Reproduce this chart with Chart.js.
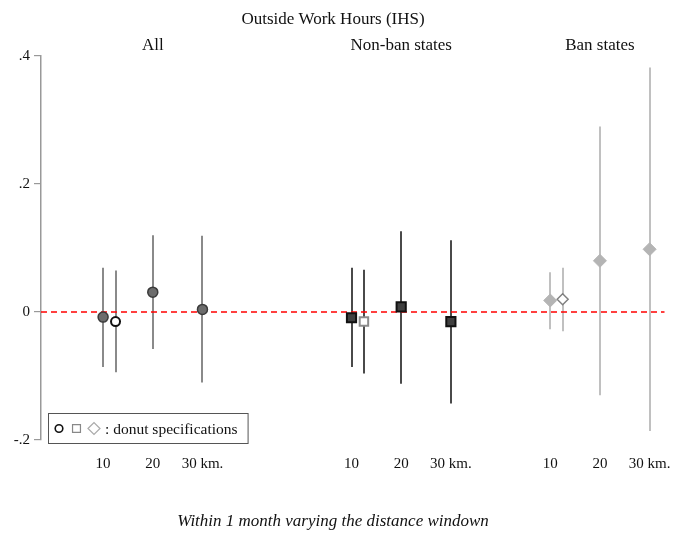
<!DOCTYPE html>
<html>
<head>
<meta charset="utf-8">
<title>Outside Work Hours (IHS)</title>
<script src="https://cdn.jsdelivr.net/npm/chart.js@4.4.1/dist/chart.umd.min.js"></script>
<style>
  body { margin: 0; background: #fff; }
  canvas { display: block; }
</style>
</head>
<body>
<canvas id="chart" width="673" height="533"></canvas>
<script>
// x positions: 1-3 All, 6-8 Non-ban, 10-12 Ban; donut estimate sits just right of the 10 km one
var tickPos = [1, 2, 3, 6, 7, 8, 10, 11, 12];
var tickLabels = ['10', '20', '30 km.', '10', '20', '30 km.', '10', '20', '30 km.'];
var groupPos = [2, 7, 11];
var groupNames = ['All', 'Non-ban states', 'Ban states'];
var yTickLabels = ['-.2', '0', '.2', '.4'];

var allPos = [1, 2, 3];
var allEst = [-0.008, 0.031, 0.004];
var allLow = [-0.086, -0.058, -0.110];
var allHigh = [0.069, 0.120, 0.119];

var nonbanPos = [6, 7, 8];
var nonbanEst = [-0.009, 0.008, -0.015];
var nonbanLow = [-0.086, -0.112, -0.143];
var nonbanHigh = [0.069, 0.126, 0.112];

var banPos = [10, 11, 12];
var banEst = [0.018, 0.080, 0.098];
var banLow = [-0.027, -0.130, -0.186];
var banHigh = [0.062, 0.290, 0.382];

var donutPos = [1.25, 6.25, 10.25];
var donutEst = [-0.015, -0.015, 0.020];
var donutLow = [-0.094, -0.096, -0.030];
var donutHigh = [0.065, 0.066, 0.069];

var serif = "'Liberation Serif', 'Times New Roman', serif";

function points(pos, est, low, high) {
    var out = [];
    for (var i = 0; i < pos.length; i++) {
        out.push({ x: pos[i], y: est[i], low: low[i], high: high[i] });
    }
    return out;
}

function donut(i) {
    return [{ x: donutPos[i], y: donutEst[i], low: donutLow[i], high: donutHigh[i] }];
}

// confidence intervals + red zero line, under the markers
var errorBars = {
    id: 'errorBars',
    beforeDatasetsDraw: function (chart) {
        var ctx = chart.ctx;
        var xs = chart.scales.x;
        var ys = chart.scales.y;
        var area = chart.chartArea;
        ctx.save();
        chart.data.datasets.forEach(function (ds) {
            ctx.strokeStyle = ds.ciColor;
            ctx.lineWidth = 2;
            ds.data.forEach(function (p) {
                var px = Math.round(xs.getPixelForValue(p.x));
                ctx.beginPath();
                ctx.moveTo(px, ys.getPixelForValue(p.high));
                ctx.lineTo(px, ys.getPixelForValue(p.low));
                ctx.stroke();
            });
        });
        var y0 = ys.getPixelForValue(0);
        ctx.strokeStyle = '#ff0000';
        ctx.lineWidth = 1.5;
        ctx.setLineDash([6, 4]);
        ctx.beginPath();
        ctx.moveTo(area.left, y0);
        ctx.lineTo(area.right, y0);
        ctx.stroke();
        ctx.restore();
    }
};

// the little "o [] <> : donut specifications" box
var donutNote = {
    id: 'donutNote',
    afterDraw: function (chart) {
        var ctx = chart.ctx;
        var area = chart.chartArea;
        var left = area.left + 7;
        var top = area.bottom - 27;
        var cy = top + 15.5;
        var text = ': donut specifications';
        ctx.save();
        ctx.font = '15.5px ' + serif;
        var tx = left + 57;
        var w = tx + ctx.measureText(text).width + 10 - left;
        ctx.fillStyle = '#fff';
        ctx.fillRect(left, top, w, 30);
        ctx.strokeStyle = '#555';
        ctx.lineWidth = 1;
        ctx.strokeRect(left + 0.5, top + 0.5, w, 30);

        ctx.fillStyle = '#fff';
        ctx.lineWidth = 1.6;
        ctx.strokeStyle = '#111';
        Chart.helpers.drawPoint(ctx, { pointStyle: 'circle', radius: 3.8, rotation: 0, borderWidth: 1.6 }, left + 11, cy);
        ctx.lineWidth = 1.2;
        ctx.strokeStyle = '#888';
        Chart.helpers.drawPoint(ctx, { pointStyle: 'rect', radius: 5.6, rotation: 0, borderWidth: 1.2 }, left + 28.5, cy);
        ctx.strokeStyle = '#aaa';
        Chart.helpers.drawPoint(ctx, { pointStyle: 'rectRot', radius: 6, rotation: 0, borderWidth: 1.2 }, left + 46, cy);

        ctx.fillStyle = '#111';
        ctx.textBaseline = 'middle';
        ctx.fillText(text, tx, cy + 1);
        ctx.restore();
    }
};

var ctx = document.getElementById('chart').getContext('2d');
var chart = new Chart(ctx, {
    type: 'scatter',
    data: {
        datasets: [
            {
                label: 'All',
                data: points(allPos, allEst, allLow, allHigh),
                pointStyle: 'circle', pointRadius: 5,
                backgroundColor: '#6c6c6c', borderColor: '#3a3a3a', borderWidth: 1.5,
                ciColor: '#8a8a8a'
            },
            {
                label: 'All donut',
                data: donut(0),
                pointStyle: 'circle', pointRadius: 4.5,
                backgroundColor: '#fff', borderColor: '#111', borderWidth: 2,
                ciColor: '#8a8a8a'
            },
            {
                label: 'Non-ban',
                data: points(nonbanPos, nonbanEst, nonbanLow, nonbanHigh),
                pointStyle: 'rect', pointRadius: 6.5,
                backgroundColor: '#404040', borderColor: '#111', borderWidth: 2,
                ciColor: '#4a4a4a'
            },
            {
                label: 'Non-ban donut',
                data: donut(1),
                pointStyle: 'rect', pointRadius: 6,
                backgroundColor: '#fff', borderColor: '#8c8c8c', borderWidth: 2,
                ciColor: '#4a4a4a'
            },
            {
                label: 'Ban',
                data: points(banPos, banEst, banLow, banHigh),
                pointStyle: 'rectRot', pointRadius: 6.5,
                backgroundColor: '#b4b4b4', borderColor: '#b4b4b4', borderWidth: 1,
                ciColor: '#c0c0c0'
            },
            {
                label: 'Ban donut',
                data: donut(2),
                pointStyle: 'rectRot', pointRadius: 5.5,
                backgroundColor: '#fff', borderColor: '#808080', borderWidth: 1.5,
                ciColor: '#c0c0c0'
            }
        ]
    },
    options: {
        responsive: false,
        animation: false,
        layout: { padding: { left: 0, right: 7, top: 0, bottom: 0 } },
        plugins: {
            legend: { display: false },
            tooltip: { enabled: false },
            title: {
                display: true,
                text: 'Outside Work Hours (IHS)',
                color: '#111',
                font: { family: serif, size: 17, weight: 'normal' },
                padding: { top: 9, bottom: 0 }
            },
            subtitle: {
                display: true,
                position: 'bottom',
                text: 'Within 1 month varying the distance windown',
                color: '#111',
                font: { family: serif, size: 17, style: 'italic', weight: 'normal' },
                padding: { top: 10, bottom: 1 }
            }
        },
        scales: {
            x: {
                type: 'linear',
                min: -0.25,
                max: 12.3,
                // tick marks hidden, tickLength only pushes the labels down
                grid: { display: false, drawTicks: true, tickLength: 15 },
                border: { display: false },
                afterBuildTicks: function (axis) {
                    axis.ticks = tickPos.map(function (v) { return { value: v }; });
                },
                afterFit: function (axis) { axis.height = 61.6; },
                ticks: {
                    autoSkip: false,
                    maxRotation: 0,
                    padding: 0,
                    color: '#111',
                    font: { family: serif, size: 15 },
                    callback: function (value, index) { return tickLabels[index]; }
                }
            },
            x2: {
                type: 'linear',
                position: 'top',
                min: -0.25,
                max: 12.3,
                grid: { display: false, drawTicks: false },
                border: { display: false },
                afterBuildTicks: function (axis) {
                    axis.ticks = groupPos.map(function (v) { return { value: v }; });
                },
                afterFit: function (axis) { axis.height = 26.6; },
                ticks: {
                    autoSkip: false,
                    maxRotation: 0,
                    padding: 0,
                    color: '#111',
                    font: { family: serif, size: 17 },
                    callback: function (value, index) { return groupNames[index]; }
                }
            },
            y: {
                min: -0.2,
                max: 0.4,
                grid: { display: true, drawOnChartArea: false, drawTicks: true, tickLength: 7, color: '#999', lineWidth: 1.2 },
                border: { display: true, color: '#999', width: 1.5 },
                afterFit: function (axis) { axis.width = 41; },
                ticks: {
                    stepSize: 0.2,
                    padding: 4,
                    color: '#111',
                    font: { family: serif, size: 15 },
                    callback: function (value, index) { return yTickLabels[index]; }
                }
            }
        }
    },
    plugins: [errorBars, donutNote]
});
</script>
</body>
</html>
